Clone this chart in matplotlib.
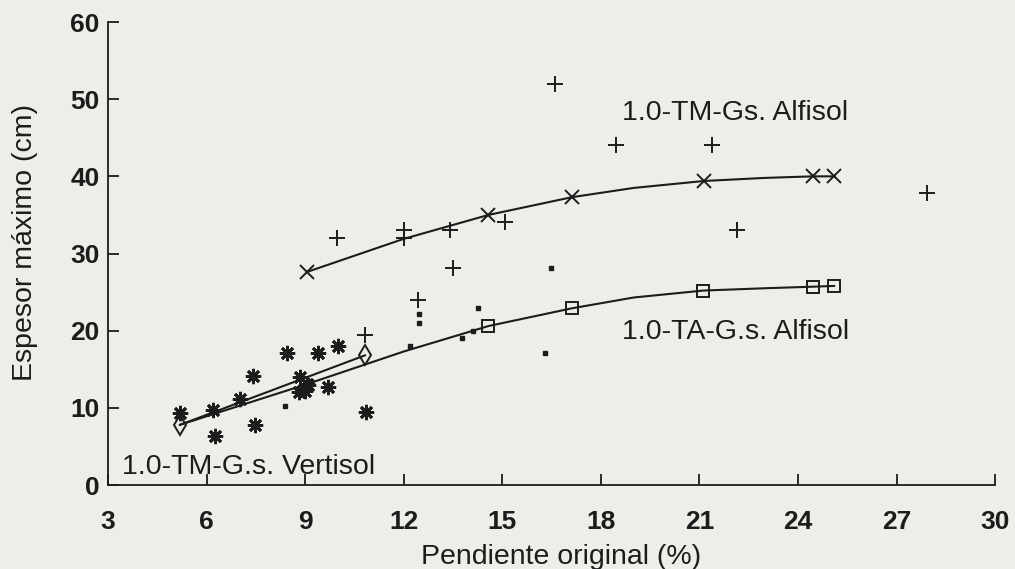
import matplotlib
matplotlib.use("Agg")
import matplotlib.pyplot as plt

plt.rcParams['font.family'] = ['Liberation Sans', 'DejaVu Sans']

# observed points, 1.0-TM-Gs. Alfisol (+)
plus_x = [9.96, 10.82, 12.0, 12.0, 12.45, 13.42, 13.49, 15.08, 16.6, 18.45, 21.38, 22.15, 27.92]
plus_y = [32.0, 19.4, 33.0, 32.0, 24.0, 33.1, 28.1, 34.1, 52.0, 44.0, 44.0, 33.0, 37.9]

# observed points, 1.0-TA-G.s. Alfisol (small dots)
dot_x = [8.39, 12.19, 12.46, 12.46, 13.76, 14.1, 14.27, 16.3, 16.49]
dot_y = [10.2, 18.0, 22.1, 21.0, 19.0, 19.9, 23.0, 17.1, 28.1]

# observed points, Vertisol (asterisks)
ast_x = [5.19, 6.2, 6.26, 7.02, 7.4, 7.47, 8.44, 8.8, 8.85, 9.0, 9.05, 9.1, 9.4, 9.7, 10.0, 10.84]
ast_y = [9.3, 9.7, 6.3, 11.1, 14.1, 7.8, 17.1, 12.0, 14.0, 12.2, 13.1, 13.0, 17.1, 12.7, 18.0, 9.5]

# simulated curves
tm_x = [9.05, 12.0, 14.58, 17.12, 19.0, 21.14, 23.0, 24.45, 25.1]
tm_y = [27.6, 31.9, 35.0, 37.3, 38.5, 39.4, 39.8, 40.0, 40.0]
tm_mark_x = [9.05, 14.58, 17.12, 21.14, 24.45, 25.1]
tm_mark_y = [27.6, 35.0, 37.3, 39.4, 40.0, 40.0]

ta_x = [5.19, 9.0, 12.0, 14.58, 17.12, 19.0, 21.12, 23.0, 24.45, 25.1]
ta_y = [7.8, 13.0, 17.3, 20.6, 22.9, 24.3, 25.2, 25.5, 25.7, 25.8]
ta_mark_x = [14.58, 17.12, 21.12, 24.45, 25.1]
ta_mark_y = [20.6, 22.9, 25.2, 25.7, 25.8]

vert_x = [5.19, 10.82]
vert_y = [7.8, 16.8]

ink = '#1c1c1c'
bg = '#efede8'

fig = plt.figure(figsize=(10.15, 5.69), dpi=100, facecolor=bg)
ax = fig.add_axes([0.1064, 0.1476, 0.874, 0.8137], facecolor=bg)

ax.plot(tm_x, tm_y, color=ink, lw=1.5)
ax.plot(tm_mark_x, tm_mark_y, ls='none', marker='x', ms=9.5, mew=1.4, color=ink)
ax.plot(ta_x, ta_y, color=ink, lw=1.5)
ax.plot(ta_mark_x, ta_mark_y, ls='none', marker='s', ms=8.5, mew=1.4, mfc='none', color=ink)
ax.plot(vert_x, vert_y, color=ink, lw=1.5, marker='d', ms=10, mew=1.4, mfc='none')

ax.plot(plus_x, plus_y, ls='none', marker='+', ms=11, mew=1.4, color=ink)
ax.plot(dot_x, dot_y, ls='none', marker='s', ms=3, color=ink)
ax.plot(ast_x, ast_y, ls='none', marker=(8, 2, 0), ms=11, mew=2.0, color=ink)

ax.text(18.64, 48.2, '1.0-TM-Gs. Alfisol', fontsize=20.5, color=ink, va='center')
ax.text(18.64, 19.8, '1.0-TA-G.s. Alfisol', fontsize=20.5, color=ink, va='center')
ax.text(3.42, 2.3, '1.0-TM-G.s. Vertisol', fontsize=20.5, color=ink, va='center')

ax.set_xlim(3, 30)
ax.set_ylim(0, 60)
ax.set_xticks(range(3, 31, 3))
ax.set_yticks(range(0, 61, 10))
ax.spines['top'].set_visible(False)
ax.spines['right'].set_visible(False)
for s in ['left', 'bottom']:
    ax.spines[s].set_linewidth(1.3)
    ax.spines[s].set_color(ink)
ax.tick_params(direction='in', length=8, width=1.3, colors=ink, labelsize=19)
ax.tick_params(axis='x', pad=18)
ax.tick_params(axis='y', pad=6)
for lab in ax.get_xticklabels() + ax.get_yticklabels():
    lab.set_fontweight('bold')

ax.set_xlabel('Pendiente original (%)', fontsize=20.5, color=ink, va='center')
ax.xaxis.set_label_coords(0.511, -0.1555)
ax.set_ylabel('Espesor máximo (cm)', fontsize=20.5, color=ink, va='center')
ax.yaxis.set_label_coords(-0.094, 0.524)

fig.savefig('out.png', dpi=100, facecolor=bg)
